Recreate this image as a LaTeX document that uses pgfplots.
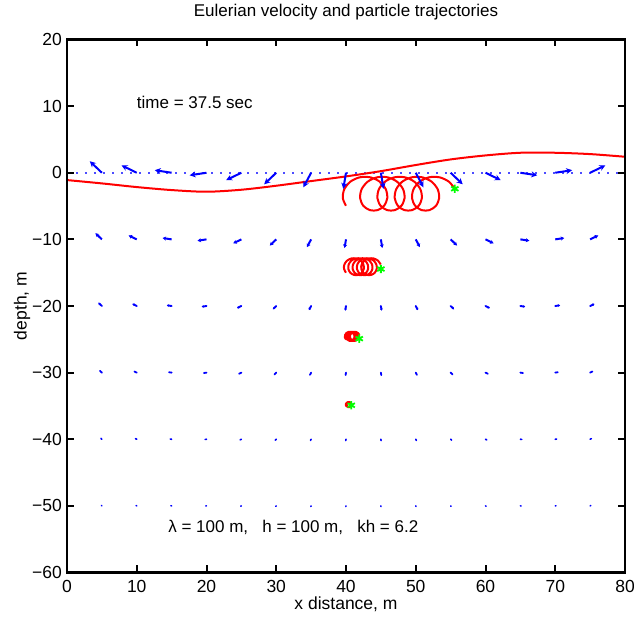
\documentclass[border=0pt]{standalone}
\usepackage{pgfplots}
\pgfplotsset{compat=1.18}
\usepackage{fontspec}
\setmainfont{Liberation Sans}
\usetikzlibrary{arrows.meta,calc}
\definecolor{mblue}{RGB}{0,0,255}
\definecolor{mred}{RGB}{255,0,0}
\definecolor{mgreen}{RGB}{0,255,0}
\begin{document}
\fontsize{17}{20}\selectfont
\begin{tikzpicture}
\begin{axis}[name=ax,
  scale only axis, width=558pt, height=533pt,
  xmin=0, xmax=80, ymin=-60, ymax=20,
  xtick={0,10,...,80},
  ytick={-60,-50,...,20},
  yticklabels={−60,−50,−40,−30,−20,−10,0,10,20},
  tick align=inside, xtick pos=both, ytick pos=both,
  major tick length=7pt,
  axis line style={black, line width=2.2pt},
  /pgf/number format/assume math mode=true,
  tick label style={font=\fontsize{17.5}{20}\selectfont},
  xticklabel style={anchor=north, inner sep=0pt, yshift=-7.5pt},
  yticklabel style={anchor=east, inner sep=0pt, xshift=-5pt},
  label style={font=\fontsize{17.5}{20}\selectfont},
  xlabel={x distance, m},
  ylabel={depth, m},
  xlabel style={at={(axis description cs:0.5,-0.0591)}, anchor=center},
  ylabel style={at={(axis description cs:-0.0806,0.5)}, anchor=center},
  title={Eulerian velocity and particle trajectories},
  title style={font=\fontsize{17}{20}\selectfont, at={(axis description cs:0.5,1.0403)}, anchor=center},
  clip=true,
]
% mean surface level
\addplot[mblue!70, line width=1.8pt, dash pattern=on 1.6pt off 7.4pt] coordinates {(0,0) (80,0)};
% free surface
\addplot[mred, line width=2pt, smooth] coordinates {
(0,-1.1)(5,-1.6)(10,-2.15)(15,-2.6)(20,-2.85)(25,-2.55)(30,-1.95)(35,-1.25)(40,-0.55)(45,0.24)(50,1.16)(55,2.0)(60,2.6)(65,3.0)(70,3.0)(75,2.8)(80,2.4)};
% particle trajectory near surface
\addplot[mred, line width=2pt, smooth] coordinates {
(39.997,-4.953)(39.544,-3.810)(39.750,-2.490)(40.617,-1.347)(41.967,-0.687)(43.494,-0.687)
(44.843,-1.347)(45.710,-2.490)(45.917,-3.810)(45.463,-4.953)(44.527,-5.613)(43.414,-5.613)
(42.477,-4.953)(42.024,-3.810)(42.231,-2.490)(43.098,-1.347)(44.447,-0.687)(45.974,-0.687)
(47.324,-1.347)(48.190,-2.490)(48.397,-3.810)(47.944,-4.953)(47.007,-5.613)(45.894,-5.613)
(44.958,-4.953)(44.505,-3.810)(44.711,-2.490)(45.578,-1.347)(46.928,-0.687)(48.454,-0.687)
(49.804,-1.347)(50.671,-2.490)(50.877,-3.810)(50.424,-4.953)(49.488,-5.613)(48.375,-5.613)
(47.438,-4.953)(46.985,-3.810)(47.192,-2.490)(48.058,-1.347)(49.408,-0.687)(50.935,-0.687)
(52.284,-1.347)(53.151,-2.490)(53.358,-3.810)(52.905,-4.953)(51.968,-5.613)(50.855,-5.613)
(49.919,-4.953)(49.465,-3.810)(49.672,-2.490)(50.539,-1.347)(51.888,-0.687)(53.415,-0.687)
(54.765,-1.347)(55.632,-2.490)};
% trajectory at about -14 m
\addplot[mred, line width=2pt, smooth] coordinates {
(39.995,-15.005)(39.716,-14.431)(39.767,-13.769)(40.150,-13.195)(40.775,-12.864)(41.489,-12.864)
(42.115,-13.195)(42.497,-13.769)(42.549,-14.431)(42.269,-15.005)(41.747,-15.336)(41.137,-15.336)
(40.614,-15.005)(40.335,-14.431)(40.386,-13.769)(40.769,-13.195)(41.395,-12.864)(42.108,-12.864)
(42.734,-13.195)(43.116,-13.769)(43.168,-14.431)(42.889,-15.005)(42.366,-15.336)(41.756,-15.336)
(41.233,-15.005)(40.954,-14.431)(41.006,-13.769)(41.388,-13.195)(42.014,-12.864)(42.727,-12.864)
(43.353,-13.195)(43.736,-13.769)(43.787,-14.431)(43.508,-15.005)(42.985,-15.336)(42.375,-15.336)
(41.853,-15.005)(41.573,-14.431)(41.625,-13.769)(42.007,-13.195)(42.633,-12.864)(43.347,-12.864)
(43.972,-13.195)(44.355,-13.769)(44.406,-14.431)(44.127,-15.005)(43.605,-15.336)(42.994,-15.336)
(42.472,-15.005)(42.192,-14.431)(42.244,-13.769)(42.627,-13.195)(43.252,-12.864)(43.966,-12.864)
(44.591,-13.195)(44.974,-13.769)};
% trajectory at about -24.5 m
\addplot[mred, line width=2.4pt, smooth] coordinates {
(40.033,-25.017)(39.876,-24.721)(39.890,-24.379)(40.074,-24.083)(40.384,-23.913)(40.740,-23.913)
(41.050,-24.083)(41.234,-24.379)(41.248,-24.721)(41.091,-25.017)(40.809,-25.188)(40.481,-25.188)
(40.199,-25.017)(40.042,-24.721)(40.056,-24.379)(40.240,-24.083)(40.550,-23.913)(40.906,-23.913)
(41.215,-24.083)(41.400,-24.379)(41.414,-24.721)(41.257,-25.017)(40.975,-25.188)(40.646,-25.188)
(40.364,-25.017)(40.208,-24.721)(40.222,-24.379)(40.406,-24.083)(40.715,-23.913)(41.071,-23.913)
(41.381,-24.083)(41.566,-24.379)(41.580,-24.721)(41.422,-25.017)(41.140,-25.188)(40.812,-25.188)
(40.530,-25.017)(40.374,-24.721)(40.387,-24.379)(40.571,-24.083)(40.881,-23.913)(41.237,-23.913)
(41.547,-24.083)(41.731,-24.379)(41.745,-24.721)(41.588,-25.017)(41.306,-25.188)(40.978,-25.188)
(40.695,-25.017)(40.539,-24.721)(40.553,-24.379)(40.737,-24.083)(41.047,-23.913)(41.402,-23.913)
(41.712,-24.083)(41.897,-24.379)};
% trajectory at about -35 m
\addplot[mred, line width=2.4pt, smooth] coordinates {
(40.103,-35.047)(40.017,-34.891)(40.021,-34.709)(40.117,-34.553)(40.277,-34.462)(40.464,-34.462)
(40.624,-34.553)(40.720,-34.709)(40.724,-34.891)(40.638,-35.047)(40.486,-35.138)(40.309,-35.138)
(40.157,-35.047)(40.071,-34.891)(40.075,-34.709)(40.171,-34.553)(40.331,-34.462)(40.518,-34.462)
(40.678,-34.553)(40.774,-34.709)};
% current particle positions
\addplot[only marks, mark=asterisk, mark size=4.2pt, mgreen, line width=1.8pt] coordinates {
(55.6,-2.4) (45.0,-14.45) (41.9,-24.9) (40.75,-34.9)};
% Eulerian velocity field
\addplot[mblue, line width=2pt, quiver={u=\thisrow{u}, v=\thisrow{v}}, -{Stealth[length=6pt,width=6pt]}] table {
x y u v
5 0 -1.732 1.732
10 0 -2.183 1.112
15 0 -2.420 0.383
20 0 -2.420 -0.383
25 0 -2.183 -1.112
30 0 -1.732 -1.732
35 0 -1.112 -2.183
40 0 -0.383 -2.420
45 0 0.383 -2.420
50 0 1.112 -2.183
55 0 1.732 -1.732
60 0 2.183 -1.112
65 0 2.420 -0.383
70 0 2.420 0.383
75 0 2.183 1.112
};
\addplot[mblue, line width=2pt, quiver={u=\thisrow{u}, v=\thisrow{v}}, -{Stealth[length=3.5pt,width=4pt]}] table {
x y u v
5 -10 -0.924 0.924
10 -10 -1.165 0.593
15 -10 -1.291 0.204
20 -10 -1.291 -0.204
25 -10 -1.165 -0.593
30 -10 -0.924 -0.924
35 -10 -0.593 -1.165
40 -10 -0.204 -1.291
45 -10 0.204 -1.291
50 -10 0.593 -1.165
55 -10 0.924 -0.924
60 -10 1.165 -0.593
65 -10 1.291 -0.204
70 -10 1.291 0.204
75 -10 1.165 0.593
};
\addplot[mblue, line width=1.9pt, line cap=round, quiver={u=\thisrow{u}, v=\thisrow{v}}, -{Stealth[length=2pt,width=2.6pt]}] table {
x y u v
5 -20 -0.493 0.493
10 -20 -0.621 0.316
15 -20 -0.688 0.109
20 -20 -0.688 -0.109
25 -20 -0.621 -0.316
30 -20 -0.493 -0.493
35 -20 -0.316 -0.621
40 -20 -0.109 -0.688
45 -20 0.109 -0.688
50 -20 0.316 -0.621
55 -20 0.493 -0.493
60 -20 0.621 -0.316
65 -20 0.688 -0.109
70 -20 0.688 0.109
75 -20 0.621 0.316
};
\addplot[mblue, line width=1.8pt, line cap=round, quiver={u=\thisrow{u}, v=\thisrow{v}}] table {
x y u v
5 -30 -0.263 0.263
10 -30 -0.331 0.169
15 -30 -0.367 0.058
20 -30 -0.367 -0.058
25 -30 -0.331 -0.169
30 -30 -0.263 -0.263
35 -30 -0.169 -0.331
40 -30 -0.058 -0.367
45 -30 0.058 -0.367
50 -30 0.169 -0.331
55 -30 0.263 -0.263
60 -30 0.331 -0.169
65 -30 0.367 -0.058
70 -30 0.367 0.058
75 -30 0.331 0.169
};
\addplot[mblue, line width=1.6pt, line cap=round, quiver={u=\thisrow{u}, v=\thisrow{v}}] table {
x y u v
5 -40 -0.140 0.140
10 -40 -0.176 0.090
15 -40 -0.196 0.031
20 -40 -0.196 -0.031
25 -40 -0.176 -0.090
30 -40 -0.140 -0.140
35 -40 -0.090 -0.176
40 -40 -0.031 -0.196
45 -40 0.031 -0.196
50 -40 0.090 -0.176
55 -40 0.140 -0.140
60 -40 0.176 -0.090
65 -40 0.196 -0.031
70 -40 0.196 0.031
75 -40 0.176 0.090
};
\addplot[mblue, line width=1.5pt, line cap=round, quiver={u=\thisrow{u}, v=\thisrow{v}}] table {
x y u v
5 -50 -0.075 0.075
10 -50 -0.094 0.048
15 -50 -0.105 0.017
20 -50 -0.105 -0.017
25 -50 -0.094 -0.048
30 -50 -0.075 -0.075
35 -50 -0.048 -0.094
40 -50 -0.017 -0.105
45 -50 0.017 -0.105
50 -50 0.048 -0.094
55 -50 0.075 -0.075
60 -50 0.094 -0.048
65 -50 0.105 -0.017
70 -50 0.105 0.017
75 -50 0.094 0.048
};
\node[anchor=west, inner sep=0pt, font=\fontsize{17}{20}\selectfont] at (axis cs:10,10.5) {time = 37.5 sec};
\node[anchor=west, inner sep=0pt, font=\fontsize{17}{20}\selectfont] at (axis cs:14.5,-53.3) {λ = 100 m,\ \ \ h = 100 m,\ \ \ kh = 6.2};
\end{axis}
% frame and inward ticks (axis decoration)
\draw[black, line width=2.2pt] (ax.south west) rectangle (ax.north east);
\foreach \tk in {1,...,7} {
  \draw[black, line width=2pt] ($(ax.south west)!\tk/8!(ax.south east)$) -- ++(0pt,7pt);
  \draw[black, line width=2pt] ($(ax.north west)!\tk/8!(ax.north east)$) -- ++(0pt,-7pt);
  \draw[black, line width=2pt] ($(ax.south west)!\tk/8!(ax.north west)$) -- ++(7pt,0pt);
  \draw[black, line width=2pt] ($(ax.south east)!\tk/8!(ax.north east)$) -- ++(-7pt,0pt);
}
\pgfresetboundingbox
\path[use as bounding box] ([shift={(-67pt,-53.5pt)}]ax.south west) rectangle ([shift={(9pt,39.5pt)}]ax.north east);
\end{tikzpicture}
\end{document}
